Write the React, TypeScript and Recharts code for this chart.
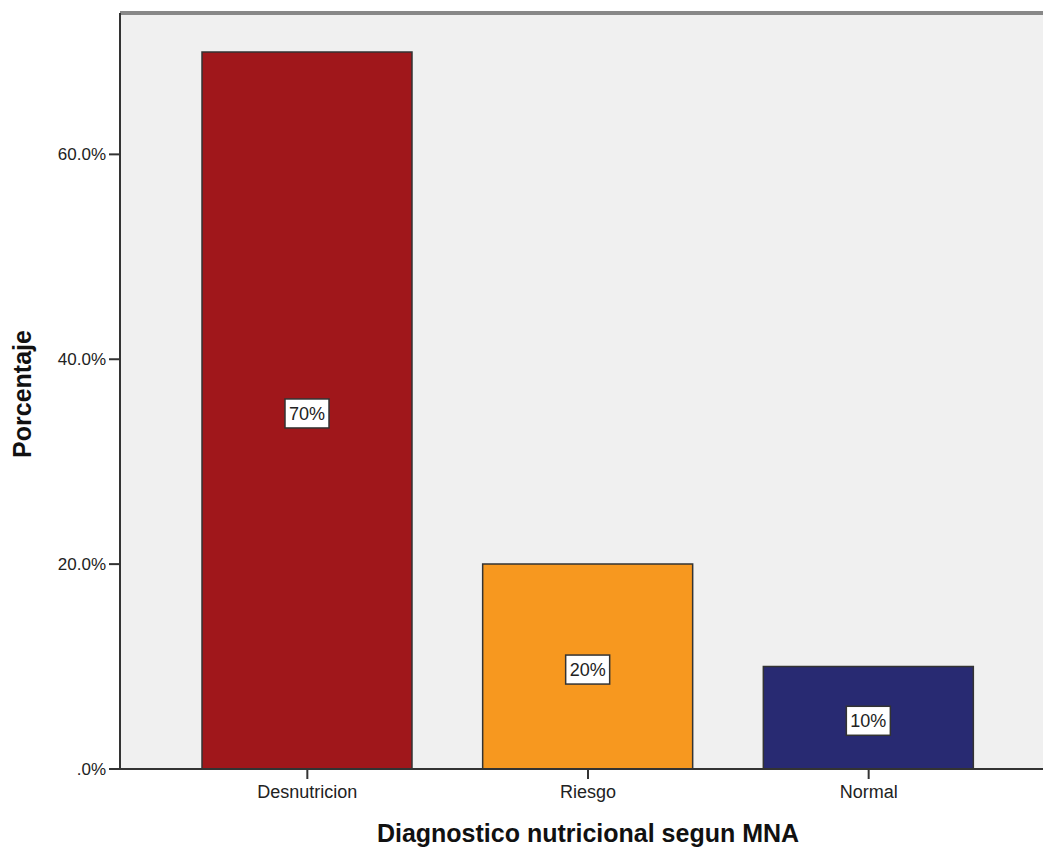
import { BarChart, Bar, XAxis, YAxis, Cell, LabelList, ReferenceLine, Customized } from 'recharts';

const categories = ['Desnutricion', 'Riesgo', 'Normal'];
const percentages = [70, 20, 10];
const yTicks = [0, 20, 40, 60];
const barColors = ['#a0171b', '#f7981f', '#282a72'];

const Y_MAX = 73.8;
const FONT = 'Arial, "Liberation Sans", sans-serif';

const data = categories.map((name, i) => ({ name, value: percentages[i] }));

const formatTick = (v: number) => (v === 0 ? '.0%' : `${v.toFixed(1)}%`);

// white boxed value label in the middle of each bar
const BoxLabel = (props: any) => {
  const { x, y, width, height, value } = props;
  const cx = x + width / 2;
  const cy = y + height / 2 + 3;
  const w = 44;
  const h = 29;
  return (
    <g>
      <rect x={cx - w / 2} y={cy - h / 2} width={w} height={h} fill="#fff" stroke="#333" strokeWidth={1.5} />
      <text x={cx} y={cy + 6.5} textAnchor="middle" fontSize={18} fontFamily={FONT} fill="#222">
        {`${value}%`}
      </text>
    </g>
  );
};

const Titles = () => (
  <g fontFamily={FONT} fontWeight="bold" fill="#111">
    <text x={588} y={842} textAnchor="middle" fontSize={25}>
      Diagnostico nutricional segun MNA
    </text>
    <text x={31} y={394} textAnchor="middle" fontSize={25} transform="rotate(-90 31 394)">
      Porcentaje
    </text>
  </g>
);

export default function App() {
  return (
    <div style={{ position: 'absolute', left: 0, top: 0, background: '#fff' }}>
      <BarChart
        width={1043}
        height={848}
        data={data}
        margin={{ top: 13, right: 0, bottom: 0, left: 0 }}
        barSize={210}
      >
        <rect x={120} y={13} width={923} height={756} fill="#f0f0f0" />
        <XAxis
          dataKey="name"
          padding={{ left: 47, right: 34 }}
          tickLine={{ stroke: '#333', strokeWidth: 2 }}
          axisLine={{ stroke: '#333', strokeWidth: 2 }}
          tickSize={10}
          tickMargin={6}
          tick={{ fontSize: 18, fill: '#222', fontFamily: FONT }}
          height={79}
        />
        <YAxis
          domain={[0, Y_MAX]}
          ticks={yTicks}
          tickFormatter={formatTick}
          width={120}
          tickLine={{ stroke: '#333', strokeWidth: 2 }}
          axisLine={{ stroke: '#333', strokeWidth: 2 }}
          tickSize={11}
          tickMargin={3}
          tick={{ fontSize: 17, fill: '#222', fontFamily: FONT }}
        />
        <ReferenceLine y={Y_MAX} stroke="#888" strokeWidth={4} />
        <Bar dataKey="value" isAnimationActive={false} stroke="#333" strokeWidth={1.5}>
          {data.map((d, i) => (
            <Cell key={d.name} fill={barColors[i]} />
          ))}
          <LabelList dataKey="value" content={BoxLabel} />
        </Bar>
        <Customized component={Titles} />
      </BarChart>
    </div>
  );
}
